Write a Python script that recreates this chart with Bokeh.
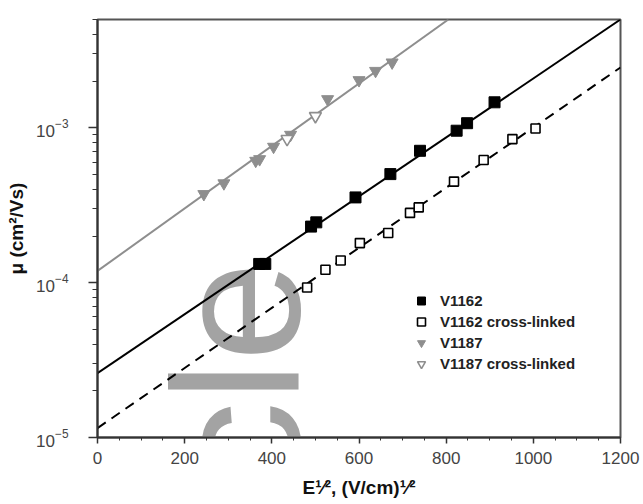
import math
from bokeh.plotting import figure
from bokeh.models import Legend, LegendItem, Label, SingleIntervalTicker
from bokeh.embed import file_html
from bokeh.resources import INLINE

# ---- data ----
v1162_x = [371, 385, 490, 502, 592, 672, 740, 824, 848, 911]
v1162_y = [1.32e-4, 1.32e-4, 2.30e-4, 2.45e-4, 3.55e-4, 5.02e-4, 7.1e-4, 9.57e-4, 1.07e-3, 1.46e-3]

v1162x_x = [481, 523, 558, 602, 667, 717, 737, 818, 886, 952, 1005]
v1162x_y = [9.3e-5, 1.21e-4, 1.39e-4, 1.80e-4, 2.09e-4, 2.82e-4, 3.06e-4, 4.49e-4, 6.19e-4, 8.45e-4, 9.9e-4]

v1187_x = [244, 290, 363, 372, 404, 443, 528, 600, 638, 676]
v1187_y = [3.73e-4, 4.38e-4, 6.12e-4, 6.27e-4, 7.54e-4, 9.01e-4, 1.53e-3, 2.03e-3, 2.33e-3, 2.64e-3]

v1187x_x = [435, 500]
v1187x_y = [8.46e-4, 1.19e-3]

# fitted lines (end points)
fit1162_x = [0, 1200]
fit1162_y = [2.6e-5, 5.0e-3]
fit1162x_x = [0, 1200]
fit1162x_y = [1.15e-5, 2.45e-3]
fit1187_x = [0, 805]
fit1187_y = [1.19e-4, 5.0e-3]

labels = ["V1162", "V1162 cross-linked", "V1187", "V1187 cross-linked"]
x_title = "E\u00b9\u2044\u00b2, (V/cm)\u00b9\u2044\u00b2"
y_title = "\u03bc (cm\u00b2/Vs)"

FONT = "Liberation Sans"
GREY = "#8e8e8e"

p = figure(frame_width=523, frame_height=418,
           min_border_left=97, min_border_right=20, min_border_top=19, min_border_bottom=66,
           x_range=(0, 1200), y_range=(1e-5, 5e-3), y_axis_type="log",
           output_backend="svg", toolbar_location=None)

p.grid.visible = False
p.outline_line_color = "#555555"
p.outline_line_width = 2
p.background_fill_color = "white"
p.border_fill_color = "white"

# watermark (beneath the data)
wm = Label(x=319, y=1.37e-4, text="Article", angle=math.pi / 2,
           text_align="right", text_baseline="alphabetic",
           text_font=FONT, text_font_size="180px", text_color="#a3a3a3",
           level="underlay")
p.add_layout(wm)

# axes
p.xaxis.ticker = SingleIntervalTicker(interval=200, num_minor_ticks=4)
for ax in (p.xaxis, p.yaxis):
    ax.axis_line_width = 2
    ax.axis_line_color = "#333333"
    ax.major_tick_line_color = "#333333"
    ax.minor_tick_line_color = "#333333"
    ax.major_tick_line_width = 1.5
    ax.minor_tick_line_width = 1
    ax.major_tick_in = 0
    ax.minor_tick_in = 0
    ax.major_label_text_font = FONT
    ax.major_label_text_font_size = "17px"
    ax.major_label_text_color = "#444444"
    ax.axis_label_text_font = FONT
    ax.axis_label_text_font_size = "19px"
    ax.axis_label_text_font_style = "bold"
    ax.axis_label_text_color = "#111111"
p.xaxis.major_tick_out = 6
p.xaxis.minor_tick_out = 3
p.xaxis.major_label_standoff = 8
p.xaxis.axis_label = x_title
p.xaxis.axis_label_standoff = 10
p.yaxis.major_tick_out = 9
p.yaxis.minor_tick_out = 5
p.yaxis.major_label_standoff = 20
p.yaxis.axis_label = y_title
p.yaxis.axis_label_standoff = 6

# fitted lines
p.line(fit1187_x, fit1187_y, line_color=GREY, line_width=2)
p.line(fit1162_x, fit1162_y, line_color="black", line_width=2)
p.line(fit1162x_x, fit1162x_y, line_color="black", line_width=2, line_dash="10 7")

# points
r1 = p.scatter(v1162_x, v1162_y, marker="square", size=11, fill_color="black", line_color="black")
r2 = p.scatter(v1162x_x, v1162x_y, marker="square", size=9, fill_color="white", line_color="black", line_width=1.6)
r3 = p.scatter(v1187_x, v1187_y, marker="inverted_triangle", size=12, fill_color=GREY, line_color=GREY)
r4 = p.scatter(v1187x_x, v1187x_y, marker="inverted_triangle", size=12, fill_color="white", line_color=GREY, line_width=1.6)

legend = Legend(items=[LegendItem(label=labels[0], renderers=[r1]),
                       LegendItem(label=labels[1], renderers=[r2]),
                       LegendItem(label=labels[2], renderers=[r3]),
                       LegendItem(label=labels[3], renderers=[r4])],
                location=(314, 63), orientation="vertical",
                border_line_color=None, background_fill_alpha=0,
                padding=0, margin=0, spacing=0,
                glyph_width=20, glyph_height=21, label_height=21, label_standoff=9,
                label_text_font=FONT, label_text_font_style="bold",
                label_text_font_size="15px", label_text_color="#222222")
p.add_layout(legend)

open("out.html", "w").write(file_html(p, INLINE))
